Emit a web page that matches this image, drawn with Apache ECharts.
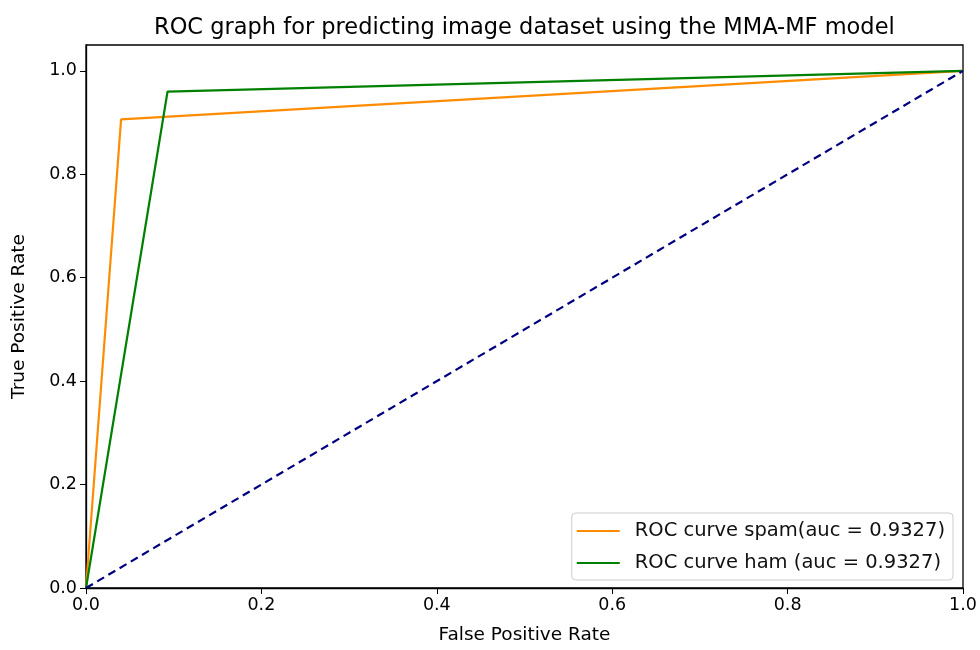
<!DOCTYPE html>
<html>
<head>
<meta charset="utf-8">
<script src="https://cdn.jsdelivr.net/npm/echarts@6/dist/echarts.min.js"></script>
<style>html,body{margin:0;padding:0;background:#fff}#c{width:980px;height:650px}</style>
</head>
<body>
<div id="c"></div>
<script>
const titleText = "ROC graph for predicting image dataset using the MMA-MF model";
const xTicks = [0, 0.2, 0.4, 0.6, 0.8, 1.0];
const yTicks = [0, 0.2, 0.4, 0.6, 0.8, 1.0];
const spamFpr = [0, 0.04, 1];
const spamTpr = [0, 0.906, 1];
const hamFpr = [0, 0.093, 1];
const hamTpr = [0, 0.96, 1];
const diagX = [0, 1];
const diagY = [0, 1];
const spamName = "ROC curve spam(auc = 0.9327)";
const hamName = "ROC curve ham (auc = 0.9327)";

const zip = (a, b) => a.map((v, i) => [v, b[i]]);
const font = "DejaVu Sans";
const titleSize = 22.5;
const ctx = document.createElement('canvas').getContext('2d');
ctx.font = titleSize + 'px "DejaVu Sans"';
const titleW = ctx.measureText(titleText).width;
const gridLeft = 86, gridRight = 17;
const plotCenter = gridLeft + (980 - gridLeft - gridRight) / 2;

const chart = echarts.init(document.getElementById('c'), null, {renderer: 'canvas'});
chart.setOption({
  animation: false,
  backgroundColor: '#fff',
  title: {
    text: titleText, left: Math.round(plotCenter - titleW / 2) - 5, top: 12, padding: 5,
    textStyle: {fontFamily: font, fontSize: titleSize, fontWeight: 'normal', color: '#000'}
  },
  grid: {left: gridLeft, right: gridRight, top: 45, bottom: 60, show: true, borderColor: '#000', borderWidth: 1.3},
  xAxis: {
    type: 'value', min: 0, max: 1, interval: 0.2,
    name: 'False Positive Rate', nameLocation: 'middle', nameGap: 38,
    nameTextStyle: {fontFamily: font, fontSize: 18.5, color: '#000'},
    axisLine: {show: true, onZero: false, lineStyle: {color: '#000', width: 1.3}},
    axisTick: {show: true, length: 6, inside: false, customValues: xTicks, lineStyle: {color: '#000'}},
    axisLabel: {fontFamily: font, fontSize: 17.5, color: '#000', margin: 8, customValues: xTicks,
      formatter: v => v.toFixed(1)},
    splitLine: {show: false}
  },
  yAxis: {
    type: 'value', min: 0, max: 1.05,
    name: 'True Positive Rate', nameLocation: 'middle', nameGap: 57, nameRotate: 90,
    nameTextStyle: {fontFamily: font, fontSize: 18.5, color: '#000'},
    axisLine: {show: true, onZero: false, lineStyle: {color: '#000', width: 1.3}},
    axisTick: {show: true, length: 6, inside: false, customValues: yTicks, lineStyle: {color: '#000'}},
    axisLabel: {fontFamily: font, fontSize: 17.5, color: '#000', margin: 9, customValues: yTicks,
      formatter: v => v.toFixed(1)},
    splitLine: {show: false}
  },
  legend: {
    right: 27, bottom: 70, orient: 'vertical',
    padding: [8, 8, 7, 5], itemGap: 12,
    backgroundColor: '#fff', borderColor: '#ccc', borderWidth: 1, borderRadius: 4,
    itemWidth: 43, itemHeight: 20,
    textStyle: {fontFamily: font, fontSize: 19.5, color: '#111', padding: [0, 0, 0, 10]},
    data: [{name: spamName, icon: 'path://M0,9 L43,9 L43,11 L0,11 Z'}, {name: hamName, icon: 'path://M0,9 L43,9 L43,11 L0,11 Z'}]
  },
  series: [
    {name: spamName, type: 'line', data: zip(spamFpr, spamTpr), symbol: 'none',
      itemStyle: {color: '#ff8c00'}, lineStyle: {color: '#ff8c00', width: 2.2}},
    {name: hamName, type: 'line', data: zip(hamFpr, hamTpr), symbol: 'none',
      itemStyle: {color: '#008000'}, lineStyle: {color: '#008000', width: 2.2}},
    {name: 'diag', type: 'line', data: zip(diagX, diagY), symbol: 'none',
      lineStyle: {color: '#000080', width: 2.2, type: [8, 5]}}
  ]
});
</script>
</body>
</html>
